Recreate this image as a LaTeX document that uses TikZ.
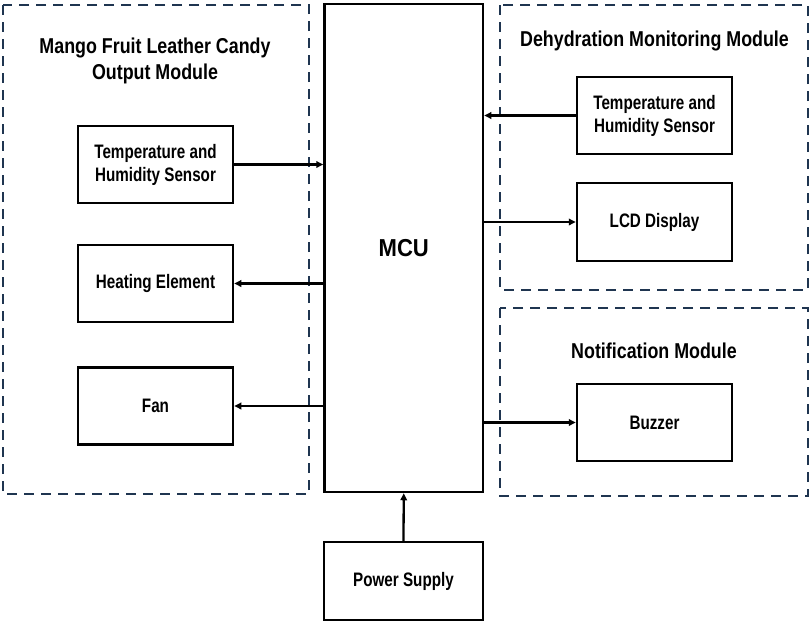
\documentclass[tikz,border=0pt]{standalone}
\usepackage{fontspec}
\setmainfont{Liberation Sans}[FakeStretch=0.78]
\newfontfamily\titlefont{Liberation Sans}[FakeStretch=0.83]
\newfontfamily\mcufont{Liberation Sans}[FakeStretch=0.9]
\usetikzlibrary{arrows.meta}
\definecolor{dashnavy}{HTML}{1F3550}
\tikzset{
  module/.style={draw=dashnavy, line width=2.8pt, dash pattern=on 10pt off 7pt},
  block/.style={draw=black, line width=2.5pt, minimum width=155pt, minimum height=77pt, inner sep=0pt, align=center, font=\fontsize{19.5}{23}\selectfont\bfseries},
  title/.style={align=center, font=\titlefont\fontsize{21.5}{26}\selectfont\bfseries, inner sep=0pt},
  conn/.style={line width=2.3pt, -{Triangle[length=7pt,width=6.5pt]}}
}
\begin{document}
\begin{tikzpicture}[x=1pt,y=-1pt]
\useasboundingbox (0,0) rectangle (810,621);
% dashed modules
\draw[module] (3,5) rectangle (309,494);
\draw[module] (500,5) rectangle (808,290);
\draw[module] (500,308) rectangle (808,496);
% titles
\node[title] (t1) at (155,61) {Mango Fruit Leather Candy\\Output Module};
\node[title] (t2) at (654.5,41) {Dehydration Monitoring Module};
\node[title] (t3) at (654,351) {Notification Module};
% MCU
\node[block, minimum width=158.5pt, minimum height=488pt, font=\mcufont\fontsize{24.5}{28}\selectfont\bfseries] (mcu) at (403.75,248) {MCU};
\node[block, minimum width=159pt, minimum height=78pt] (ps) at (403.5,581) {Power Supply};
% left blocks
\node[block] (tl) at (155.5,164.5) {Temperature and\\Humidity Sensor};
\node[block] (heat) at (155.5,283.5) {Heating Element};
\node[block] (fan) at (155.5,406) {Fan};
% right blocks
\node[block] (tr) at (654.5,115.5) {Temperature and\\Humidity Sensor};
\node[block, minimum height=78pt] (lcd) at (654.5,222) {LCD Display};
\node[block] (buz) at (654.5,422.5) {Buzzer};
% connectors
\draw[conn] (tl.east) -- (tl.east -| mcu.west);
\draw[conn] (heat.east -| mcu.west) -- (heat.east);
\draw[conn] (fan.east -| mcu.west) -- (fan.east);
\draw[conn] (tr.west) -- (tr.west -| mcu.east);
\draw[conn] (lcd.west -| mcu.east) -- (lcd.west);
\draw[conn] (buz.west -| mcu.east) -- (buz.west);
\draw[conn] (ps.north) -- (mcu.south);
\end{tikzpicture}
\end{document}
